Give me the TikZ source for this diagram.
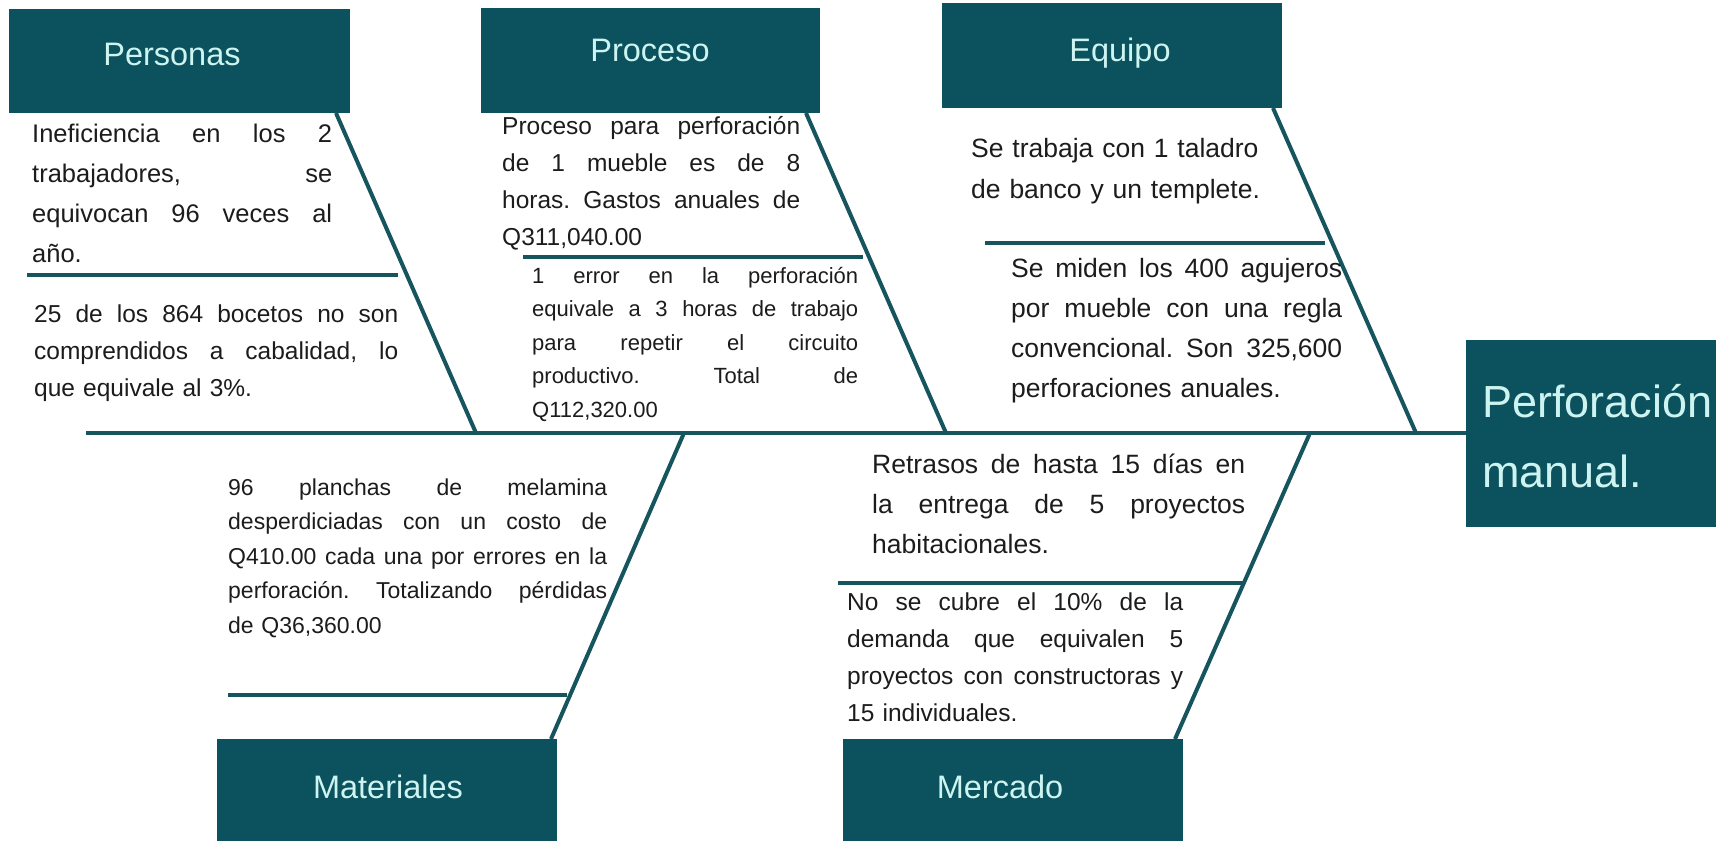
\documentclass[tikz,border=0pt]{standalone}
\usepackage{fontspec}
\setmainfont{Liberation Sans}
\definecolor{tealbox}{RGB}{12,82,94}
\definecolor{tealline}{RGB}{22,84,94}
\definecolor{titlecol}{RGB}{205,244,240}
\definecolor{ink}{RGB}{28,28,28}
\newlength\jlw
\newcommand\jl[1]{\leavevmode\hbox to \jlw{\spaceskip=0.278em plus 1fil\relax #1}}
\frenchspacing
\begin{document}
\begin{tikzpicture}[x=1pt,y=-1pt,
  catbox/.style={fill=tealbox, draw=none, inner sep=0pt, anchor=north west},
  cattitle/.style={text=titlecol, inner sep=0pt, anchor=base, font=\fontsize{32.5}{39}\selectfont},
  body/.style={text=ink, inner sep=0pt, anchor=base west, align=left, text width=#1,
    /utils/exec={\setlength\jlw{#1}}},
  bone/.style={draw=tealline, line width=4pt},
  subline/.style={draw=tealline, line width=4pt}]
\useasboundingbox (0,0) rectangle (1725,841);
\clip (0,0) rectangle (1725,841);
\fill[white] (0,0) rectangle (1725,841);

% category boxes
\node[catbox, minimum width=341pt, minimum height=104pt] (pers) at (9,9) {};
\node[catbox, minimum width=339pt, minimum height=105pt] (proc) at (481,8) {};
\node[catbox, minimum width=340pt, minimum height=105pt] (equi) at (942,3) {};
\node[catbox, minimum width=340pt, minimum height=110pt] (mate) at (217,739) {};
\node[catbox, minimum width=340pt, minimum height=110pt] (merc) at (843,739) {};
\node[catbox, minimum width=250pt, minimum height=187pt] (effect) at (1466,340) {};

\node[cattitle] (perst) at (172,65) {Personas};
\node[cattitle] (proct) at (650,61) {Proceso};
\node[cattitle] (equit) at (1120,61) {Equipo};
\node[cattitle] (matet) at (388,798) {Materiales};
\node[cattitle] (merct) at (1000,798) {Mercado};
\node[text=titlecol, inner sep=0pt, anchor=base west, align=left,
      font=\fontsize{45}{70}\selectfont, text width=240pt] (effectt) at (1482,417) {Perforación\\manual.};

% spine
\coordinate (tail) at (86,433);
\draw[bone] (tail) -- (effect.west |- tail);

% bones
\coordinate (persA) at (336,113); \coordinate (persB) at (476,433);
\coordinate (procA) at (806,113); \coordinate (procB) at (946,433);
\coordinate (equiA) at (1273,108); \coordinate (equiB) at (1416,433);
\coordinate (mateA) at (551,739); \coordinate (mateB) at (684,433);
\coordinate (mercA) at (1175,739); \coordinate (mercB) at (1310,433);
\draw[bone] (persA) -- (persB);
\draw[bone] (procA) -- (procB);
\draw[bone] (equiA) -- (equiB);
\draw[bone] (mateA) -- (mateB);
\draw[bone] (mercA) -- (mercB);

% sub lines
\coordinate (s1a) at (27,275);  \coordinate (s1b) at (398,275);
\coordinate (s2a) at (523,257); \coordinate (s2b) at (863,257);
\coordinate (s3a) at (985,243); \coordinate (s3b) at (1325,243);
\coordinate (s4a) at (228,695); \coordinate (s4b) at (567,695);
\coordinate (s5a) at (838,583); \coordinate (s5b) at (1245,583);
\draw[subline] (s1a) -- (s1b);
\draw[subline] (s2a) -- (s2b);
\draw[subline] (s3a) -- (s3b);
\draw[subline] (s4a) -- (s4b);
\draw[subline] (s5a) -- (s5b);

% texts
\node[body=300pt, font=\fontsize{25.5}{40}\selectfont] (t1) at (32,142)
 {\jl{Ineficiencia en los 2}\\\jl{trabajadores, se}\\\jl{equivocan 96 veces al}\\año.};
\node[body=364pt, font=\fontsize{24.5}{37}\selectfont] (t2) at (34,322)
 {\jl{25 de los 864 bocetos no son}\\\jl{comprendidos a cabalidad, lo}\\que equivale al 3\%.};
\node[body=298pt, font=\fontsize{24.5}{37}\selectfont] (t3) at (502,134)
 {\jl{Proceso para perforación}\\\jl{de 1 mueble es de 8}\\\jl{horas. Gastos anuales de}\\Q311,040.00};
\node[body=326pt, font=\fontsize{22}{33.5}\selectfont] (t4) at (532,283)
 {\jl{1 error en la perforación}\\\jl{equivale a 3 horas de trabajo}\\\jl{para repetir el circuito}\\\jl{productivo. Total de}\\Q112,320.00};
\node[body=297pt, font=\fontsize{26.5}{41}\selectfont] (t5) at (971,157)
 {Se trabaja con 1 taladro\\de banco y un templete.};
\node[body=331pt, font=\fontsize{26.5}{40.3}\selectfont] (t6) at (1011,277)
 {\jl{Se miden los 400 agujeros}\\\jl{por mueble con una regla}\\\jl{convencional. Son 325,600}\\perforaciones anuales.};
\node[body=379pt, font=\fontsize{23}{34.5}\selectfont] (t7) at (228,495)
 {\jl{96 planchas de melamina}\\\jl{desperdiciadas con un costo de}\\\jl{Q410.00 cada una por errores en la}\\\jl{perforación. Totalizando pérdidas}\\de Q36,360.00};
\node[body=373pt, font=\fontsize{26.5}{40}\selectfont] (t8) at (872,473)
 {\jl{Retrasos de hasta 15 días en}\\\jl{la entrega de 5 proyectos}\\habitacionales.};
\node[body=336pt, font=\fontsize{24.5}{37.3}\selectfont] (t9) at (847,610)
 {\jl{No se cubre el 10\% de la}\\\jl{demanda que equivalen 5}\\\jl{proyectos con constructoras y}\\15 individuales.};
\end{tikzpicture}
\end{document}
